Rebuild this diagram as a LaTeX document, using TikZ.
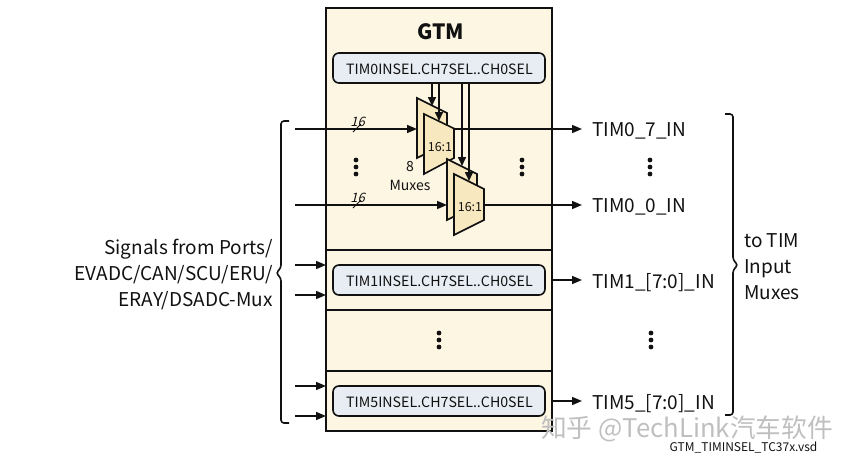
\documentclass[tikz,border=0pt]{standalone}
\usepackage{fontspec}
\setmainfont{Noto Sans CJK SC}
\newfontfamily\cjkf{Noto Sans CJK SC}
\newfontfamily\slantf[FakeSlant=0.25]{Noto Sans CJK SC}
\usetikzlibrary{arrows.meta}
\definecolor{cream}{HTML}{FDF6E3}
\definecolor{muxfill}{HTML}{F8E8C0}
\definecolor{selfill}{HTML}{E8EDF3}
\definecolor{ink}{HTML}{111111}
\tikzset{
 x=1pt,y=-1pt,
 every node/.style={text=ink,inner sep=0pt},
 wire/.style={draw=ink,line width=1.6pt,-{Triangle[length=10pt,width=8pt]}},
 panel/.style={draw=ink,line width=1.6pt,fill=cream},
 selbox/.style={draw=ink,line width=1.6pt,fill=selfill,rounded corners=6pt,minimum width=212pt,minimum height=30pt},
 seltext/.style={font=\fontsize{14.2}{16}\selectfont},
 muxs/.style={draw=ink,line width=1.6pt,fill=muxfill,line join=miter},
 lab/.style={font=\fontsize{19}{26}\selectfont},
 sm/.style={font=\fontsize{14}{16}\selectfont},
 bus/.style={font=\fontsize{13}{14}\slantf},
 brace/.style={draw=ink,line width=1.6pt,rounded corners=3pt},
}
\newcommand{\vdotsat}[2]{\fill[ink] (#1,#2-7) circle (2.4pt) (#1,#2) circle (2.4pt) (#1,#2+7) circle (2.4pt);}
\begin{document}
\begin{tikzpicture}
\useasboundingbox (0,0) rectangle (855,464);
% panels
\draw[panel] (326,8) rectangle (552,250);
\draw[panel] (326,250) rectangle (552,310);
\draw[panel] (326,310) rectangle (552,371);
\draw[panel] (326,371) rectangle (552,431);
\node[font=\fontsize{21}{24}\selectfont\bfseries] (gtm) at (440.5,31.5) {GTM};
\node[selbox] (s0) at (439,68) {};
\node[selbox] (s1) at (439,280) {};
\node[selbox] (s5) at (439,401) {};
\node[seltext] (s0t) at (439.5,69) {TIM0INSEL.CH7SEL..CH0SEL};
\node[seltext] (s1t) at (439.5,281) {TIM1INSEL.CH7SEL..CH0SEL};
\node[seltext] (s5t) at (439.5,402) {TIM5INSEL.CH7SEL..CH0SEL};
% coordinates
\coordinate (i0) at (295,129);
\coordinate (i1) at (295,205);
\coordinate (o0) at (582,129);
\coordinate (o1) at (582,205);
\coordinate (m0) at (417,129);
\coordinate (m1) at (447,205);
% input lines
\draw[wire] (i0) -- (m0);
\draw[wire] (i1) -- (m1);
\draw[wire] (454,129) -- (o0);
\draw[wire] (484,205) -- (o1);
% mux 1
\draw[muxs] (417,98) -- (447,113) -- (447,143) -- (417,158) -- cycle;
\draw[muxs] (424,114) -- (454,128.5) -- (454,158) -- (424,174) -- cycle;
\node[font=\fontsize{12.5}{14}\selectfont] (mx1) at (440,147) {16:1};
% mux 2
\draw[muxs] (447,159) -- (477,174) -- (477,205) -- (447,220) -- cycle;
\draw[muxs] (454,174) -- (484,189) -- (484,220) -- (454,235) -- cycle;
\node[font=\fontsize{12.5}{14}\selectfont] (mx2) at (470,207) {16:1};
% select lines
\coordinate (a0) at (432,83); \coordinate (a1) at (439,83);
\coordinate (a2) at (462,83); \coordinate (a3) at (469,83);
\draw[wire,-{Triangle[length=9pt,width=8pt]}] (a0) -- (432,106);
\draw[wire,-{Triangle[length=9pt,width=8pt]}] (a1) -- (439,121);
\draw[wire,-{Triangle[length=9pt,width=8pt]}] (a2) -- (462,166);
\draw[wire,-{Triangle[length=9pt,width=8pt]}] (a3) -- (469,181);
% bus ticks
\draw[draw=ink,line width=1pt] (353,132) -- (361,124);
\draw[draw=ink,line width=1pt] (353,208) -- (361,200);
\node[bus] (b0) at (357.5,122) {16};
\node[bus] (b1) at (357.5,198) {16};
\node[sm] (n8) at (410,167) {8};
\node[sm] (nm) at (410,185.5) {Muxes};
% dots
\vdotsat{356}{167}
\vdotsat{522}{167}
\vdotsat{439}{340}
\vdotsat{650}{167}
\vdotsat{651}{340}
% lower inputs
\coordinate (i2) at (295,265); \coordinate (i3) at (295,295);
\coordinate (i4) at (295,386); \coordinate (i5) at (295,416);
\coordinate (e2) at (326,265); \coordinate (e3) at (326,295);
\coordinate (e4) at (326,386); \coordinate (e5) at (326,416);
\draw[wire] (i2) -- (e2);
\draw[wire] (i3) -- (e3);
\draw[wire] (i4) -- (e4);
\draw[wire] (i5) -- (e5);
% lower outputs
\coordinate (o2) at (582,280); \coordinate (o5) at (582,401);
\draw[wire] (552,280) -- (o2);
\draw[wire] (552,401) -- (o5);
% labels
\node[lab,anchor=west] (t0) at (592,130.5) {TIM0\_7\_IN};
\node[lab,anchor=west] (t1) at (592,206.5) {TIM0\_0\_IN};
\node[lab,anchor=west] (t2) at (592,282.5) {TIM1\_[7:0]\_IN};
\node[lab,anchor=west] (t5) at (592,403.5) {TIM5\_[7:0]\_IN};
\node[lab,align=right,anchor=east] (sig) at (273,274.5) {Signals from Ports/\\EVADC/CAN/SCU/ERU/\\ERAY/DSADC-Mux};
\node[lab,align=left,anchor=west] (to) at (744,266.5) {to TIM\\Input\\Muxes};
% braces
\draw[brace] (289,121) -- (281,121) -- (281,268) -- (276,273) -- (281,278) -- (281,423) -- (289,423);
\draw[brace] (725,114) -- (733,114) -- (733,260) -- (738,265) -- (733,270) -- (733,415) -- (725,415);
\node[font=\fontsize{12}{13}\selectfont] (fn) at (743.5,448) {GTM\_TIMINSEL\_TC37x.vsd};
\node[font=\fontsize{25.7}{26}\selectfont\cjkf,text=gray!50] (wm) at (687,429) {知乎 @TechLink汽车软件};
\end{tikzpicture}
\end{document}
